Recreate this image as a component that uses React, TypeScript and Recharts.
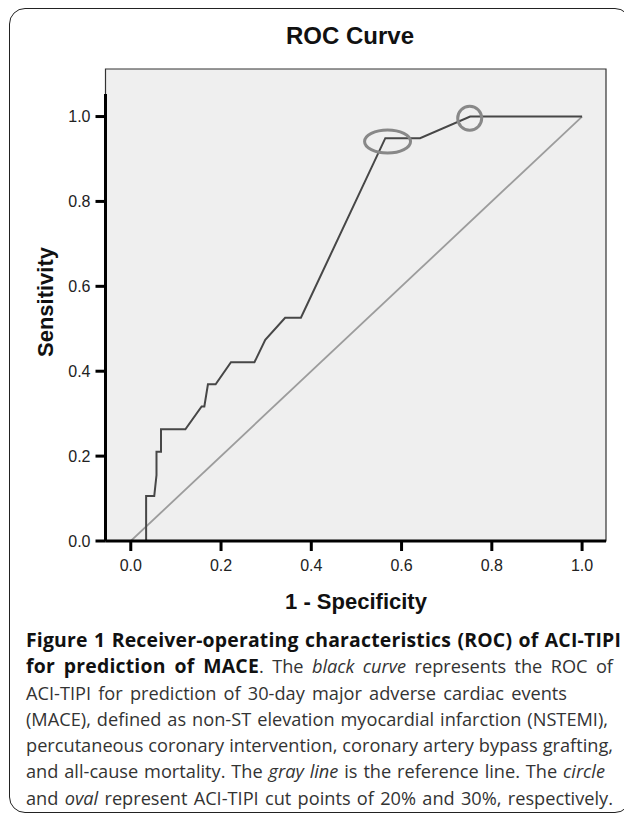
import {
  CartesianGrid,
  Line,
  LineChart,
  ReferenceArea,
  ReferenceDot,
  ReferenceLine,
  XAxis,
  YAxis,
} from "recharts";

// ROC curve (1 - specificity, sensitivity)
const rocFpr = [
  0, 0.034, 0.034, 0.052, 0.057, 0.057, 0.067, 0.067, 0.121, 0.157, 0.163,
  0.171, 0.188, 0.222, 0.274, 0.298, 0.342, 0.377, 0.564, 0.641, 0.752, 1.0,
];
const rocTpr = [
  0, 0, 0.106, 0.106, 0.155, 0.21, 0.21, 0.263, 0.263, 0.317, 0.317, 0.369,
  0.369, 0.421, 0.421, 0.474, 0.526, 0.526, 0.949, 0.949, 1.0, 1.0,
];

// diagonal reference line
const refFpr = [0, 1];
const refTpr = [0, 1];

// cut points: 20% (circle) and 30% (oval)
const circlePoint = [0.751, 0.996];
const ovalPoint = [0.569, 0.941];

const axisTicks = [0, 0.2, 0.4, 0.6, 0.8, 1.0];

const X_MIN = -0.056;
const X_MAX = 1.053;
const Y_MAX = 1.112;
const Y_AXIS_TOP = 1.053;

const rocData = rocFpr.map((x, i) => ({ x, y: rocTpr[i] }));
const refData = refFpr.map((x, i) => ({ x, y: refTpr[i] }));

const tickStyle = {
  fill: "#222",
  fontSize: 16,
  fontFamily: "'Liberation Sans', Arial, sans-serif",
};

const axisTitle = {
  position: "absolute" as const,
  fontFamily: "'Liberation Sans', Arial, sans-serif",
  fontWeight: 700,
  fontSize: 22,
  lineHeight: "22px",
  color: "#111",
  textAlign: "center" as const,
  whiteSpace: "nowrap" as const,
};

function Oval(props: { cx?: number; cy?: number }) {
  if (props.cx == null || props.cy == null) return null;
  return (
    <ellipse
      cx={props.cx}
      cy={props.cy}
      rx={23}
      ry={11.5}
      fill="none"
      stroke="#888"
      strokeWidth={3}
    />
  );
}

type Seg = { text: string; bold?: boolean; italic?: boolean };

// caption, line by line, with the width each line takes in the figure
const captionLines: Seg[][] = [
  [{ text: "Figure 1 Receiver-operating characteristics (ROC) of ACI-TIPI", bold: true }],
  [
    { text: "for prediction of MACE", bold: true },
    { text: ". The " },
    { text: "black curve", italic: true },
    { text: " represents the ROC of" },
  ],
  [{ text: "ACI-TIPI for prediction of 30-day major adverse cardiac events" }],
  [{ text: "(MACE), defined as non-ST elevation myocardial infarction (NSTEMI)," }],
  [{ text: "percutaneous coronary intervention, coronary artery bypass grafting," }],
  [
    { text: "and all-cause mortality. The " },
    { text: "gray line", italic: true },
    { text: " is the reference line. The " },
    { text: "circle", italic: true },
  ],
  [
    { text: "and " },
    { text: "oval", italic: true },
    { text: " represent ACI-TIPI cut points of 20% and 30%, respectively." },
  ],
];
const captionWidths = [595, 587, 541, 582, 587, 579, 587];

export default function App() {
  return (
    <div style={{ position: "relative", width: 624, height: 809 }}>
      <div
        style={{
          position: "absolute",
          left: 1,
          top: 0,
          width: 622,
          height: 805,
          border: "1.5px solid #222",
          borderRadius: 16,
          boxSizing: "border-box",
          background: "#fff",
        }}
      />

      <div
        style={{
          ...axisTitle,
          left: 192,
          top: 16,
          width: 300,
          fontSize: 24,
          lineHeight: "24px",
        }}
      >
        ROC Curve
      </div>

      <div style={{ position: "absolute", left: 0, top: 0 }}>
        <LineChart
          width={620}
          height={600}
          margin={{ top: 61, right: 22, bottom: 40, left: 0 }}
        >
          <CartesianGrid
            horizontal={false}
            vertical={false}
            fill="#efefef"
            stroke="none"
          />
          <XAxis
            dataKey="x"
            type="number"
            domain={[X_MIN, X_MAX]}
            ticks={axisTicks}
            allowDataOverflow
            tickFormatter={(v: number) => v.toFixed(1)}
            tick={tickStyle}
            tickSize={10}
            tickMargin={9}
            tickLine={{ stroke: "#000", strokeWidth: 3 }}
            axisLine={{ stroke: "#000", strokeWidth: 3 }}
            height={27}
          />
          <YAxis
            dataKey="y"
            type="number"
            domain={[0, Y_MAX]}
            ticks={axisTicks}
            allowDataOverflow
            tickFormatter={(v: number) => v.toFixed(1)}
            tick={tickStyle}
            tickSize={10}
            tickMargin={5}
            tickLine={{ stroke: "#000", strokeWidth: 3 }}
            axisLine={false}
            width={97.5}
          />
          <ReferenceArea
            x1={X_MIN}
            x2={X_MAX}
            y1={0}
            y2={Y_MAX}
            fill="none"
            fillOpacity={0}
            stroke="#333"
            strokeWidth={1.2}
          />
          <ReferenceLine
            segment={[
              { x: X_MIN, y: 0 },
              { x: X_MIN, y: Y_AXIS_TOP },
            ]}
            stroke="#000"
            strokeWidth={3}
          />
          <Line
            data={refData}
            dataKey="y"
            type="linear"
            stroke="#9c9c9c"
            strokeWidth={1.8}
            dot={false}
            activeDot={false}
            isAnimationActive={false}
          />
          <Line
            data={rocData}
            dataKey="y"
            type="linear"
            stroke="#474747"
            strokeWidth={2}
            dot={false}
            activeDot={false}
            isAnimationActive={false}
          />
          <ReferenceDot
            x={circlePoint[0]}
            y={circlePoint[1]}
            r={12}
            fill="none"
            stroke="#888"
            strokeWidth={3}
          />
          <ReferenceDot
            x={ovalPoint[0]}
            y={ovalPoint[1]}
            shape={(p: { cx?: number; cy?: number }) => <Oval cx={p.cx} cy={p.cy} />}
          />
        </LineChart>
      </div>

      <div style={{ ...axisTitle, left: 198, top: 583, width: 300 }}>
        1 - Specificity
      </div>
      <div
        style={{
          ...axisTitle,
          left: 38 - 100,
          top: 294 - 11,
          width: 200,
          transform: "rotate(-90deg)",
        }}
      >
        Sensitivity
      </div>

      <div
        style={{
          position: "absolute",
          left: 18,
          top: 619,
          fontFamily: "'Open Sans', sans-serif",
          fontSize: 18.2,
          lineHeight: "26.3px",
          color: "#333",
          whiteSpace: "nowrap",
        }}
      >
        {captionLines.map((line, i) => (
          <div
            key={i}
            style={{
              width: captionWidths[i],
              textAlign: "justify",
              textAlignLast: "justify",
            }}
          >
            {line.map((seg, j) => (
              <span
                key={j}
                style={{
                  fontWeight: seg.bold ? 700 : 400,
                  fontStyle: seg.italic ? "italic" : "normal",
                  fontSize: seg.bold ? 19.4 : undefined,
                  color: seg.bold ? "#111" : undefined,
                  letterSpacing: seg.bold ? 0.2 : undefined,
                }}
              >
                {seg.text}
              </span>
            ))}
          </div>
        ))}
      </div>
    </div>
  );
}
